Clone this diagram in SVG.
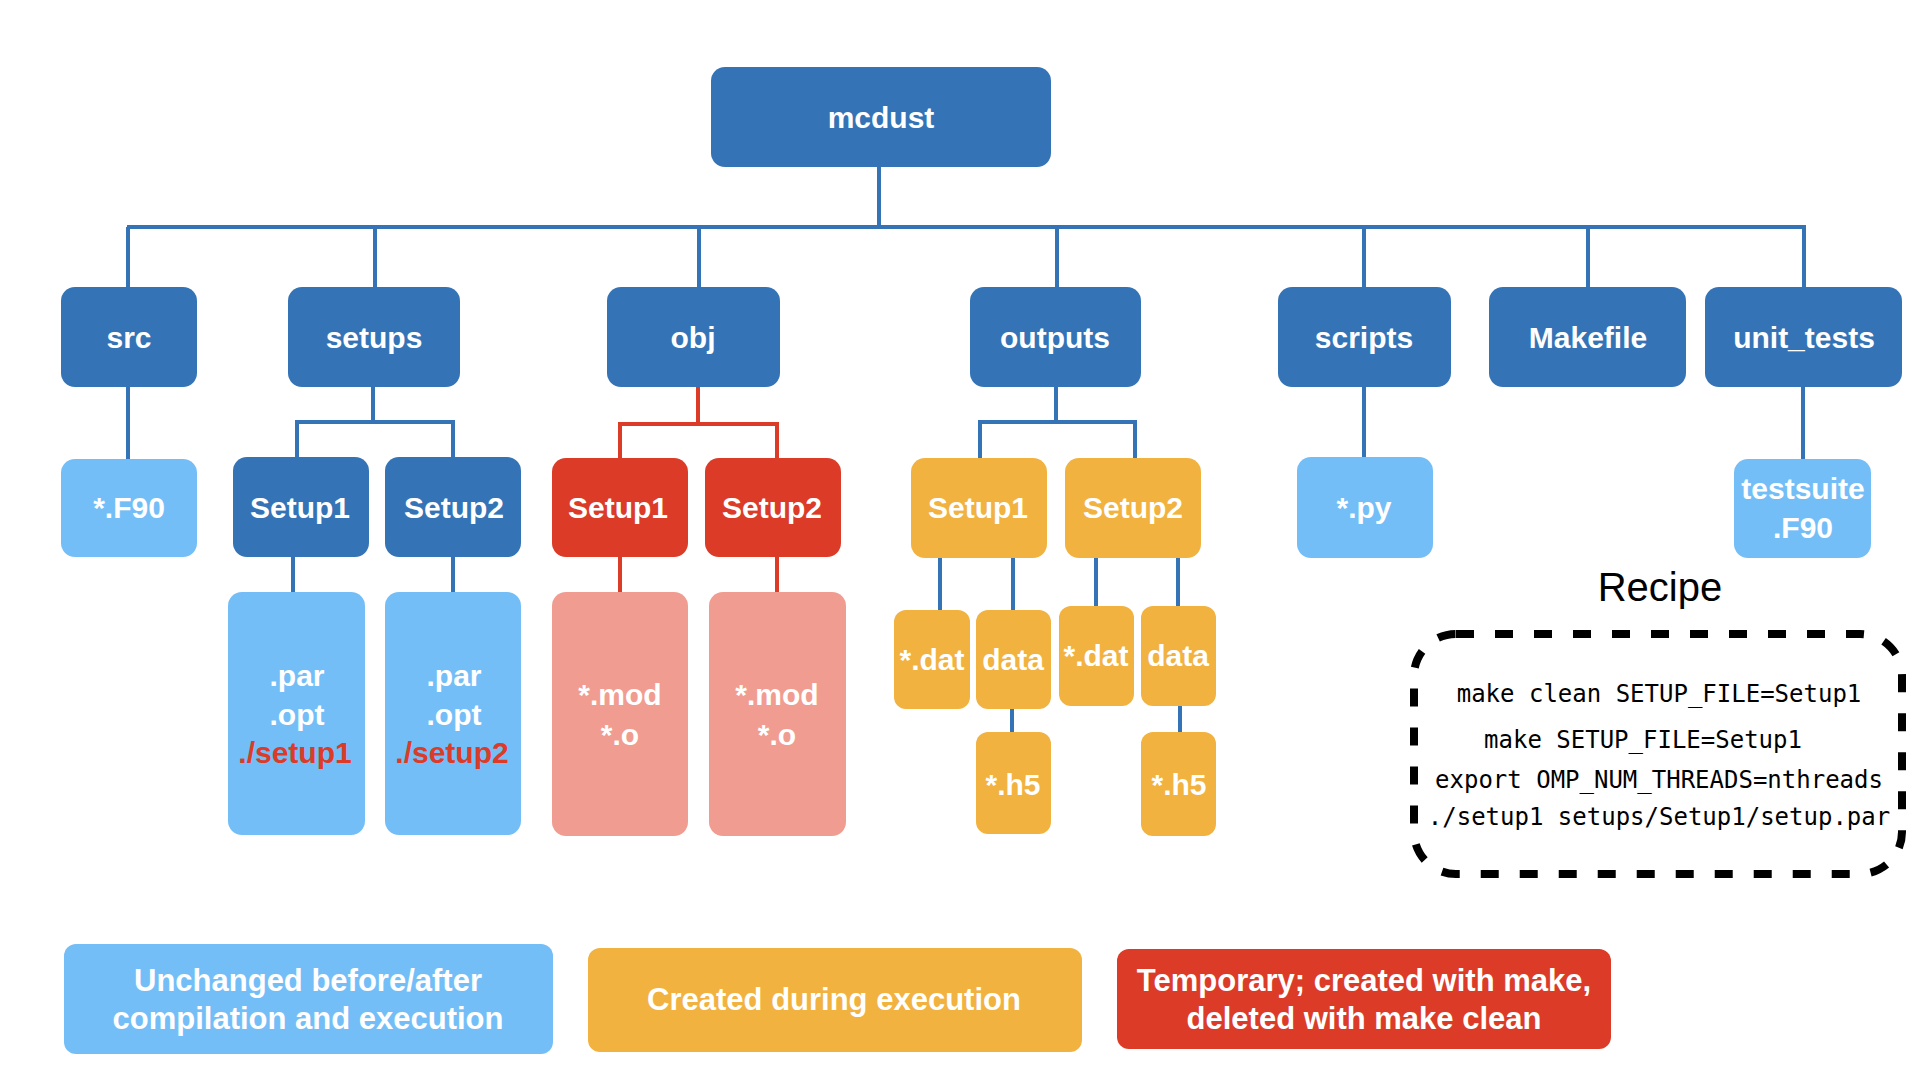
<svg xmlns="http://www.w3.org/2000/svg" width="1920" height="1080" viewBox="0 0 1920 1080">
<style>
.dk{fill:#3474B6}
.lb{fill:#74BEF7}
.rd{fill:#DB3B27}
.pk{fill:#F19C90}
.or{fill:#F2B23F}
.t{font-family:"Liberation Sans",Arial,sans-serif;font-weight:bold;font-size:30px;fill:#fff;text-anchor:middle}
.tr{fill:#DB3B27}
.lg{font-size:31px}
.bl{stroke:#3474B6;stroke-width:4;fill:none}
.rl{stroke:#DB3B27;stroke-width:4;fill:none}
.mono{font-family:"DejaVu Sans Mono","Liberation Mono",monospace;font-size:24px;fill:#000;text-anchor:middle}
</style>
<rect width="1920" height="1080" fill="#fff"/>
<g id="connectors">
<path class="bl" d="M879 167V227M127 227H1806M128 227V287M375 227V287M699 227V287M1057 227V287M1364 227V287M1588 227V287M1804 227V287"/>
<path class="bl" d="M128 387V459M1364 387V457M1803 387V459"/>
<path class="bl" d="M373 387V422M297 422H453M297 420V458M453 420V458M293 557V592M453 557V592"/>
<path class="rl" d="M698 387V424M620 424H777M620 422V458M777 422V458M620 557V592M777 557V592"/>
<path class="bl" d="M1056 387V422M980 422H1135M980 420V460M1135 420V460M940 558V610M1013 558V610M1096 558V606M1178 558V606M1012 709V732M1180 706V732"/>
</g>
<g id="mcdust"><rect class="dk" x="711" y="67" width="340" height="100" rx="14"/><text class="t" x="881" y="128">mcdust</text></g>
<g id="src"><rect class="dk" x="61" y="287" width="136" height="100" rx="14"/><text class="t" x="129" y="348">src</text></g>
<g id="setups"><rect class="dk" x="288" y="287" width="172" height="100" rx="14"/><text class="t" x="374" y="348">setups</text></g>
<g id="obj"><rect class="dk" x="607" y="287" width="173" height="100" rx="14"/><text class="t" x="693" y="348">obj</text></g>
<g id="outputs"><rect class="dk" x="970" y="287" width="171" height="100" rx="14"/><text class="t" x="1055" y="348">outputs</text></g>
<g id="scripts"><rect class="dk" x="1278" y="287" width="173" height="100" rx="14"/><text class="t" x="1364" y="348">scripts</text></g>
<g id="Makefile"><rect class="dk" x="1489" y="287" width="197" height="100" rx="14"/><text class="t" x="1588" y="348">Makefile</text></g>
<g id="unit_tests"><rect class="dk" x="1705" y="287" width="197" height="100" rx="14"/><text class="t" x="1804" y="348">unit_tests</text></g>
<g id="f90"><rect class="lb" x="61" y="459" width="136" height="98" rx="14"/><text class="t" x="129" y="518">*.F90</text></g>
<g id="setups-setup1"><rect class="dk" x="233" y="457" width="136" height="100" rx="14"/><text class="t" x="300" y="518">Setup1</text></g>
<g id="setups-setup2"><rect class="dk" x="385" y="457" width="136" height="100" rx="14"/><text class="t" x="454" y="518">Setup2</text></g>
<g id="setup1-files"><rect class="lb" x="228" y="592" width="137" height="243" rx="14"/><text class="t" x="297" y="686">.par</text><text class="t" x="297" y="725">.opt</text><text class="t tr" x="295" y="763">./setup1</text></g>
<g id="setup2-files"><rect class="lb" x="385" y="592" width="136" height="243" rx="14"/><text class="t" x="454" y="686">.par</text><text class="t" x="454" y="725">.opt</text><text class="t tr" x="452" y="763">./setup2</text></g>
<g id="obj-setup1"><rect class="rd" x="552" y="458" width="136" height="99" rx="14"/><text class="t" x="618" y="518">Setup1</text></g>
<g id="obj-setup2"><rect class="rd" x="705" y="458" width="136" height="99" rx="14"/><text class="t" x="772" y="518">Setup2</text></g>
<g id="obj1-files"><rect class="pk" x="552" y="592" width="136" height="244" rx="14"/><text class="t" x="620" y="705">*.mod</text><text class="t" x="620" y="745">*.o</text></g>
<g id="obj2-files"><rect class="pk" x="709" y="592" width="137" height="244" rx="14"/><text class="t" x="777" y="705">*.mod</text><text class="t" x="777" y="745">*.o</text></g>
<g id="out-setup1"><rect class="or" x="911" y="458" width="136" height="100" rx="14"/><text class="t" x="978" y="518">Setup1</text></g>
<g id="out-setup2"><rect class="or" x="1065" y="458" width="136" height="100" rx="14"/><text class="t" x="1133" y="518">Setup2</text></g>
<g id="dat1"><rect class="or" x="894" y="610" width="76" height="99" rx="12"/><text class="t" x="932" y="670">*.dat</text></g>
<g id="data1"><rect class="or" x="976" y="610" width="75" height="99" rx="12"/><text class="t" x="1013" y="670">data</text></g>
<g id="dat2"><rect class="or" x="1059" y="606" width="75" height="100" rx="12"/><text class="t" x="1096" y="666">*.dat</text></g>
<g id="data2"><rect class="or" x="1141" y="606" width="75" height="100" rx="12"/><text class="t" x="1178" y="666">data</text></g>
<g id="h5-1"><rect class="or" x="976" y="732" width="75" height="102" rx="12"/><text class="t" x="1013" y="795">*.h5</text></g>
<g id="h5-2"><rect class="or" x="1141" y="732" width="75" height="104" rx="12"/><text class="t" x="1179" y="795">*.h5</text></g>
<g id="py"><rect class="lb" x="1297" y="457" width="136" height="101" rx="14"/><text class="t" x="1364" y="518">*.py</text></g>
<g id="testsuite"><rect class="lb" x="1734" y="459" width="137" height="99" rx="14"/><text class="t" x="1803" y="499">testsuite</text><text class="t" x="1803" y="538">.F90</text></g>
<g id="recipe">
<text x="1660" y="601" font-family="Liberation Sans,Arial,sans-serif" font-size="40" text-anchor="middle" fill="#000">Recipe</text>
<rect x="1414" y="634" width="488" height="240" rx="42" fill="none" stroke="#000" stroke-width="8" stroke-dasharray="18 21"/>
<text class="mono" x="1659" y="702">make clean SETUP_FILE=Setup1</text>
<text class="mono" x="1643" y="748">make SETUP_FILE=Setup1</text>
<text class="mono" x="1659" y="788">export OMP_NUM_THREADS=nthreads</text>
<text class="mono" x="1659" y="825">./setup1 setups/Setup1/setup.par</text>
</g>
<g id="legend-unchanged"><rect class="lb" x="64" y="944" width="489" height="110" rx="12"/><text class="t lg" x="308" y="991">Unchanged before/after</text><text class="t lg" x="308" y="1029">compilation and execution</text></g>
<g id="legend-created"><rect class="or" x="588" y="948" width="494" height="104" rx="12"/><text class="t lg" x="834" y="1010">Created during execution</text></g>
<g id="legend-temporary"><rect class="rd" x="1117" y="949" width="494" height="100" rx="12"/><text class="t lg" x="1364" y="991">Temporary; created with make,</text><text class="t lg" x="1364" y="1029">deleted with make clean</text></g>
</svg>
